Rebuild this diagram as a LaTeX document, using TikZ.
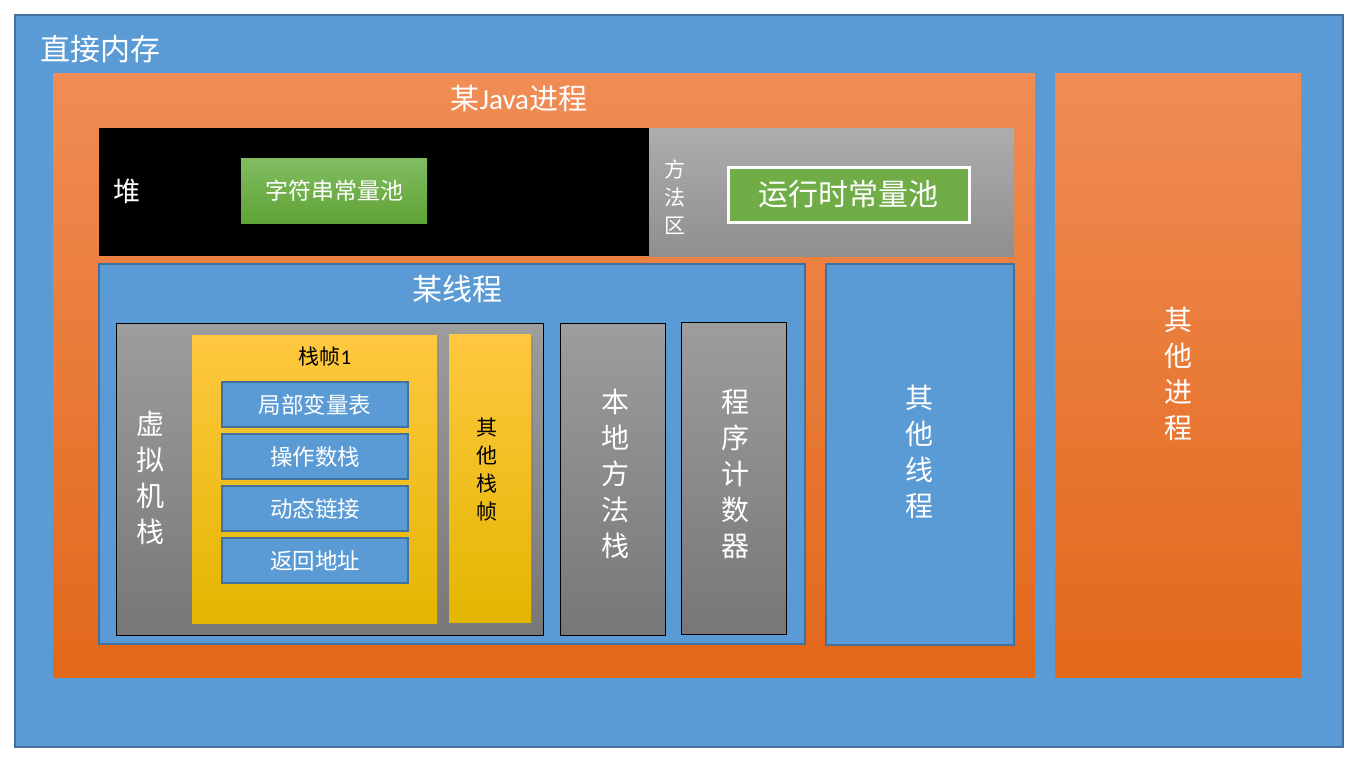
\documentclass[tikz,border=0pt]{standalone}
\usepackage{fontspec}
\setmainfont{Noto Sans CJK SC}
\newfontfamily\lat{Carlito}
\usetikzlibrary{shadows}
\definecolor{memblue}{HTML}{5B9BD5}
\definecolor{memborder}{HTML}{41719C}
\definecolor{orTop}{HTML}{F08C55}
\definecolor{orMid}{HTML}{F5802F}
\definecolor{orBot}{HTML}{E2681A}
\definecolor{grTop}{HTML}{9D9D9D}
\definecolor{grBot}{HTML}{777777}
\definecolor{mgTop}{HTML}{ADADAD}
\definecolor{mgBot}{HTML}{8F8F8F}
\definecolor{gnTop}{HTML}{82BC62}
\definecolor{gnBot}{HTML}{5FA336}
\definecolor{gnFlat}{HTML}{70AD47}
\definecolor{yeTop}{HTML}{FFC840}
\definecolor{yeMid}{HTML}{FFC000}
\definecolor{yeBot}{HTML}{E3B600}
\newcommand{\fs}[2]{\fontsize{#1}{#2}\selectfont}
\tikzset{
  box/.style={rectangle, inner sep=0pt, outer sep=0pt},
  bluebox/.style={box, fill=memblue, draw=memborder, line width=1.5pt},
  orangebox/.style={box, top color=orTop, middle color=orMid, bottom color=orBot},
  graybox/.style={box, top color=grTop, bottom color=grBot, draw=black, line width=1pt},
  yellowbox/.style={box, top color=yeTop, middle color=yeMid, bottom color=yeBot,
     drop shadow={shadow xshift=2pt, shadow yshift=-2pt, opacity=0.4}},
  itembox/.style={box, fill=memblue, draw=memborder, line width=1.5pt,
     minimum width=186pt, minimum height=45pt, text=white, font=\fs{22.5}{26}},
  wtxt/.style={text=white, inner sep=0pt, align=center},
  btxt/.style={text=black, inner sep=0pt, align=center},
}
\begin{document}
\begin{tikzpicture}[x=1pt,y=-1pt]
\useasboundingbox (0,0) rectangle (1357,761);
\fill[white] (0,0) rectangle (1357,761);
% outer
\node[bluebox, minimum width=1328pt, minimum height=732pt] (mem) at (679,381) {};
\node[wtxt, font=\fs{30}{34}, anchor=west] (memlbl) at (40,49) {直接内存};
% java process
\node[orangebox, minimum width=982pt, minimum height=604pt] (java) at (544,375) {};
\node[wtxt, font=\fs{29}{34}] (javalbl) at (519,98) {某{\lat Java}进程};
% other process
\node[orangebox, minimum width=246pt, minimum height=604pt] (otherproc) at (1178,375) {};
\node[wtxt, font=\fs{28}{36}] (otherproclbl) at (1178,374) {其\\他\\进\\程};
% heap
\node[box, fill=black, minimum width=550pt, minimum height=128pt] (heap) at (374,192) {};
\node[wtxt, font=\fs{27}{30}] (heaplbl) at (127,191) {堆};
\node[box, top color=gnTop, bottom color=gnBot, minimum width=186pt, minimum height=65pt,
      text=white, font=\fs{23}{26}] (strpool) at (334,190.5) {字符串常量池};
% method area
\node[box, top color=mgTop, bottom color=mgBot, minimum width=365pt, minimum height=128pt] (method) at (831.5,192) {};
\node[wtxt, font=\fs{21}{28}] (methodlbl) at (675,197) {方\\法\\区};
\node[box, fill=gnFlat, draw=white, line width=3pt, minimum width=241pt, minimum height=55pt,
      text=white, font=\fs{30}{34}] (rtpool) at (848.5,194.5) {运行时常量池};
% thread
\node[bluebox, minimum width=706pt, minimum height=380pt] (thread) at (452,454) {};
\node[wtxt, font=\fs{30}{34}] (threadlbl) at (457,289) {某线程};
% vm stack
\node[graybox, minimum width=427pt, minimum height=312pt] (vmstack) at (329.5,479) {};
\node[wtxt, font=\fs{28}{36}] (vmstacklbl) at (150,478) {虚\\拟\\机\\栈};
% frame 1
\node[yellowbox, minimum width=245pt, minimum height=288pt] (frame) at (314.5,479) {};
\node[btxt, font=\fs{21}{24}] (framelbl) at (325,357) {栈帧{\lat 1}};
\node[itembox] (locals) at (315,404.5) {局部变量表};
\node[itembox] (operand) at (315,456.5) {操作数栈};
\node[itembox] (dynlink) at (315,508.5) {动态链接};
\node[itembox] (retaddr) at (315,560.5) {返回地址};
% other frames
\node[yellowbox, minimum width=82pt, minimum height=288pt] (otherframes) at (490,478) {};
\node[btxt, font=\fs{21}{28}] (otherframeslbl) at (487,470) {其\\他\\栈\\帧};
% native method stack
\node[graybox, minimum width=105pt, minimum height=312pt] (native) at (612.5,479) {};
\node[wtxt, font=\fs{28}{36}] (nativelbl) at (615,474) {本\\地\\方\\法\\栈};
% program counter
\node[graybox, minimum width=105pt, minimum height=312pt] (pc) at (733.5,478) {};
\node[wtxt, font=\fs{28}{36}] (pclbl) at (735,474) {程\\序\\计\\数\\器};
% other threads
\node[bluebox, minimum width=188pt, minimum height=381pt] (otherthreads) at (920,454.5) {};
\node[wtxt, font=\fs{28}{36}] (otherthreadslbl) at (919,452) {其\\他\\线\\程};
\end{tikzpicture}
\end{document}
